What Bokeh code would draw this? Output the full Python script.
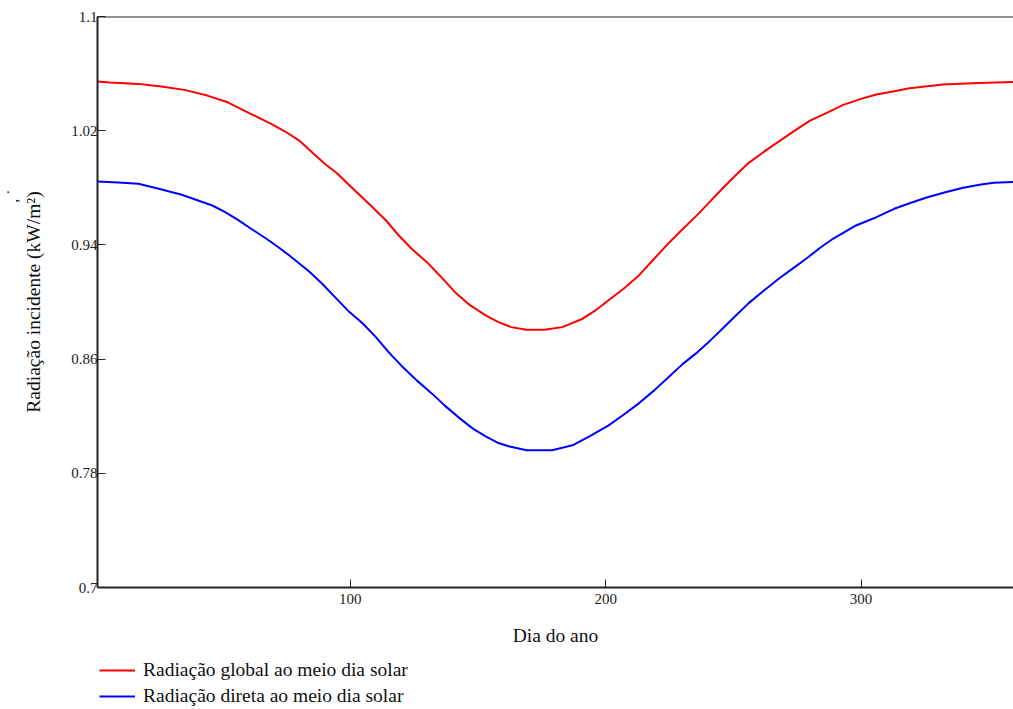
from bokeh.plotting import figure
from bokeh.layouts import column
from bokeh.models import Range1d, FixedTicker, Legend, LegendItem, Span, LinearAxis
from bokeh.embed import file_html
from bokeh.resources import INLINE

# Data
days_global = [1, 6, 17, 26, 35, 44, 52, 61, 69, 75, 80, 85, 90, 95, 99, 105, 108, 114, 119,
               124, 130, 135, 141, 147, 153, 158, 163, 169, 176, 183, 191, 196, 201, 207, 213,
               219, 225, 230, 236, 241, 246, 251, 256, 262, 267, 274, 280, 287, 293, 300, 306,
               313, 319, 332, 346, 365]
rad_global = [1.0544, 1.0537, 1.0528, 1.0509, 1.0486, 1.0446, 1.0399, 1.0318, 1.0248, 1.0189,
              1.0131, 1.0049, 0.9968, 0.9898, 0.9828, 0.9727, 0.9676, 0.9571, 0.9466, 0.9373,
              0.9279, 0.9186, 0.9069, 0.8976, 0.8906, 0.8859, 0.8824, 0.8806, 0.8806, 0.8824,
              0.8883, 0.8941, 0.9011, 0.9093, 0.9186, 0.9303, 0.9419, 0.9508, 0.9612, 0.9707,
              0.9800, 0.9890, 0.9975, 1.0053, 1.0115, 1.0201, 1.0271, 1.0329, 1.0381, 1.0423,
              1.0453, 1.0476, 1.0497, 1.0523, 1.0535, 1.0544]

days_direct = [1, 9, 17, 25, 34, 46, 51, 56, 61, 67, 72, 77, 84, 89, 94, 99, 105, 110, 115,
               120, 126, 132, 137, 143, 148, 153, 158, 162, 169, 179, 187, 194, 201, 207, 213,
               219, 225, 230, 236, 241, 246, 251, 256, 262, 268, 274, 279, 284, 289, 298, 306,
               313, 319, 326, 333, 340, 347, 352, 365]
rad_direct = [0.9844, 0.9837, 0.9828, 0.9793, 0.9751, 0.9676, 0.9629, 0.9575, 0.9515, 0.9445,
              0.9382, 0.9314, 0.9212, 0.9128, 0.9034, 0.8941, 0.8848, 0.8754, 0.8649, 0.8554,
              0.8451, 0.8358, 0.8274, 0.8183, 0.8113, 0.8059, 0.8012, 0.7989, 0.7961, 0.7961,
              0.7996, 0.8062, 0.8134, 0.8210, 0.8290, 0.8381, 0.8480, 0.8563, 0.8649, 0.8731,
              0.8818, 0.8906, 0.8992, 0.9081, 0.9166, 0.9244, 0.9310, 0.9380, 0.9443, 0.9536,
              0.9594, 0.9653, 0.9692, 0.9734, 0.9769, 0.9800, 0.9823, 0.9835, 0.9844]

x_ticks = [100, 200, 300]
y_ticks = [0.7, 0.78, 0.86, 0.94, 1.02, 1.1]
y_tick_labels = ["0.7", "0.78", "0.86", "0.94", "1.02", "1.1"]

label_global = "Radiação global ao meio dia solar"
label_direct = "Radiação direta ao meio dia solar"
x_title = "Dia do ano"
y_title = "Radiação incidente (kW/m²)"
y_mark = "\u00a0" * 53 + ", ˙"

SERIF = "Liberation Serif"
RED = "#ff0000"
BLUE = "#0000ff"

# ---- main chart ----
p = figure(width=1013, height=655, output_backend="svg", toolbar_location=None,
           x_range=Range1d(1, 359.7), y_range=Range1d(0.7, 1.1),
           min_border_left=96, min_border_right=0, min_border_top=16, min_border_bottom=68)

p.outline_line_color = None
p.xgrid.visible = False
p.ygrid.visible = False

p.line(days_global, rad_global, line_color=RED, line_width=2, line_join="round")
p.line(days_direct, rad_direct, line_color=BLUE, line_width=2, line_join="round")

top = Span(location=1.1, dimension="width", line_color="#222222", line_width=2)
p.add_layout(top)

for ax in (p.xaxis[0], p.yaxis[0]):
    ax.axis_line_color = "#222222"
    ax.axis_line_width = 2
    ax.major_tick_in = 8
    ax.major_tick_out = 0
    ax.minor_tick_in = 0
    ax.minor_tick_out = 0
    ax.major_tick_line_color = "#222222"
    ax.major_label_text_font = SERIF
    ax.major_label_text_font_size = "15px"
    ax.major_label_text_color = "#222222"
    ax.axis_label_text_font = SERIF
    ax.axis_label_text_font_size = "19.5px"
    ax.axis_label_text_font_style = "normal"
    ax.axis_label_text_color = "#111111"

p.xaxis.ticker = FixedTicker(ticks=x_ticks)
p.yaxis.ticker = FixedTicker(ticks=y_ticks)
p.yaxis.major_label_overrides = {t: s for t, s in zip(y_ticks, y_tick_labels)}
p.xaxis.axis_label = x_title
p.yaxis.axis_label = y_title
p.xaxis.major_label_standoff = 6
p.xaxis.axis_label_standoff = 18
p.yaxis.major_label_standoff = 0
p.yaxis.axis_label_standoff = 24

# stray mark to the left of the y title, as in the reference
mark_axis = LinearAxis(axis_label=y_mark, axis_line_color=None,
                       major_tick_line_color=None, minor_tick_line_color=None,
                       major_label_text_alpha=0, major_label_text_font_size="1px",
                       axis_label_text_font=SERIF, axis_label_text_font_size="16px",
                       axis_label_text_font_style="normal", axis_label_text_color="#111111",
                       axis_label_standoff=0, ticker=FixedTicker(ticks=[]))
p.add_layout(mark_axis, "left")

# ---- legend strip under the chart ----
lg = figure(width=1013, height=54, output_backend="svg", toolbar_location=None,
            x_range=Range1d(1000, 1001), y_range=Range1d(1000, 1001),
            min_border_left=0, min_border_right=0, min_border_top=0, min_border_bottom=0)
lg.axis.visible = False
lg.grid.visible = False
lg.outline_line_color = None
l1 = lg.line(days_global, rad_global, line_color=RED, line_width=2)
l2 = lg.line(days_direct, rad_direct, line_color=BLUE, line_width=2)

legend = Legend(items=[LegendItem(label=label_global, renderers=[l1]),
                       LegendItem(label=label_direct, renderers=[l2])],
                location=(2, 0), orientation="vertical",
                padding=0, margin=0, spacing=0,
                glyph_width=36, glyph_height=26, label_height=26,
                label_standoff=8, label_text_font=SERIF, label_text_font_size="19.5px",
                label_text_color="#111111",
                background_fill_alpha=0, border_line_color=None)
lg.add_layout(legend, "center")

layout = column(p, lg, spacing=0)

open("out.html", "w").write(file_html(layout, INLINE))
